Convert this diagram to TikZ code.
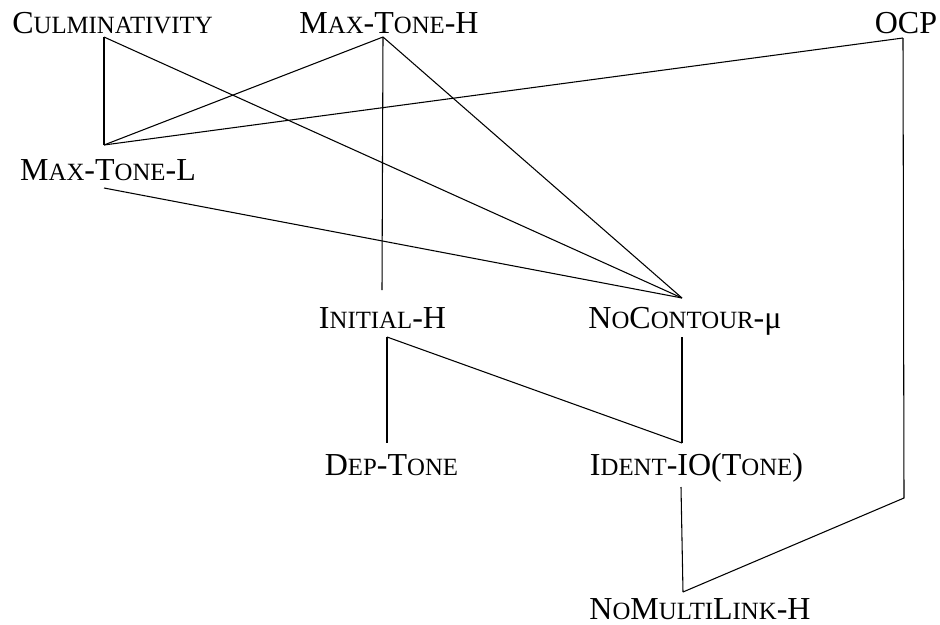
\documentclass[tikz,border=0pt]{standalone}
\usepackage{fontspec}
\setmainfont{Liberation Serif}
\usepackage{tikz}

% small capitals faked with a smaller size
\newcommand{\sk}[1]{{\fontsize{18.6}{20}\selectfont #1}}

\begin{document}
\begin{tikzpicture}[x=0.75pt,y=-0.75pt,
       cons/.style={anchor=base,inner sep=0pt,font=\fontsize{24}{28}\selectfont},
       rank/.style={line width=0.8pt}]
       \useasboundingbox (0,0) rectangle (940,625);

       %constraints
       \node[cons] (cul) at (112.5,33) {C\sk{ULMINATIVITY}};
       \node[cons] (mth) at (389,33) {M\sk{AX}-T\sk{ONE}-H};
       \node[cons] (ocp) at (906,33) {OCP};
       \node[cons] (mtl) at (108,180) {M\sk{AX}-T\sk{ONE}-L};
       \node[cons] (ini) at (382.5,328) {I\sk{NITIAL}-H};
       \node[cons] (noc) at (685,328) {N\sk{O}C\sk{ONTOUR}-μ};
       \node[cons] (dep) at (391.5,475) {D\sk{EP}-T\sk{ONE}};
       \node[cons] (ide) at (696.5,475) {I\sk{DENT}-IO(T\sk{ONE})};
       \node[cons] (nml) at (700,619) {N\sk{O}M\sk{ULTI}L\sk{INK}-H};

       %attach points
       \coordinate (cul-b) at (104,37);
       \coordinate (mth-b) at (383,37);
       \coordinate (ocp-b) at (903,38);
       \coordinate (ocp-k) at (904,498);
       \coordinate (mtl-t) at (104,145);
       \coordinate (mtl-b) at (104,188);
       \coordinate (ini-t) at (382,290);
       \coordinate (ini-b) at (387,337);
       \coordinate (noc-t) at (682,298);
       \coordinate (noc-b) at (682,337);
       \coordinate (dep-t) at (387,443);
       \coordinate (ide-t) at (682,443);
       \coordinate (ide-b) at (681,487);
       \coordinate (nml-t) at (683,592);

       %rankings
       \foreach \a/\b in {cul-b/mtl-t, cul-b/noc-t, mth-b/mtl-t, mth-b/ini-t,
              mth-b/noc-t, ocp-b/mtl-t, mtl-b/noc-t, ini-b/dep-t, ini-b/ide-t,
              noc-b/ide-t, ide-b/nml-t}  {
              \draw[rank] (\a) -- (\b);
       }
       \draw[rank] (ocp-b) -- (ocp-k) -- (nml-t);

\end{tikzpicture}
\end{document}
